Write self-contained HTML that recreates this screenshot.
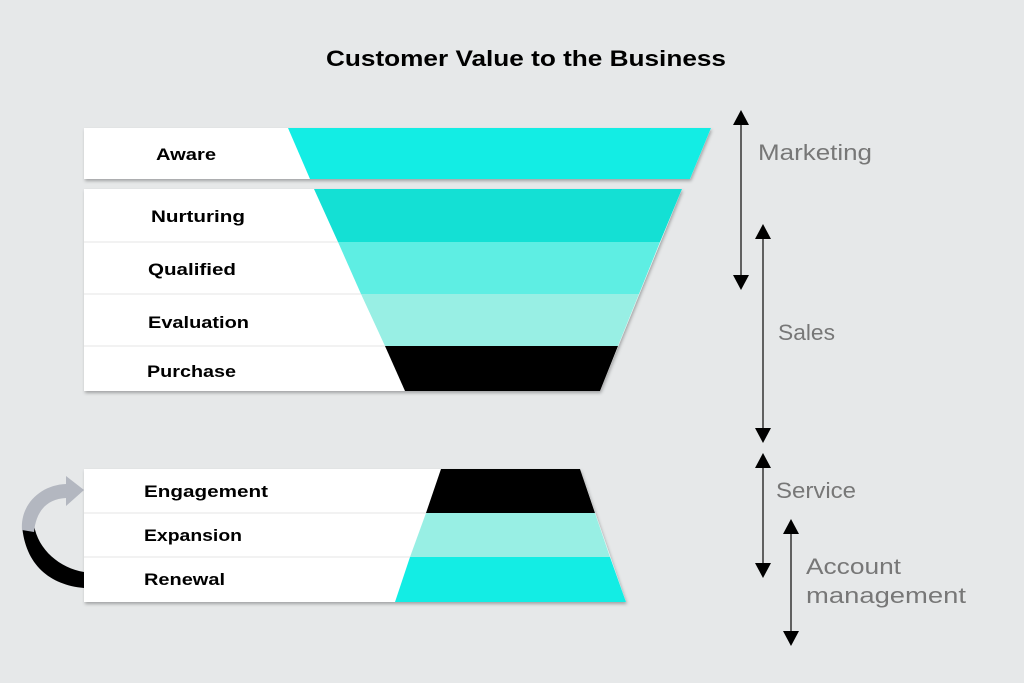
<!DOCTYPE html>
<html><head><meta charset="utf-8"><style>
html,body{margin:0;padding:0;background:#e6e8e9}
svg{display:block}
text{font-family:"Liberation Sans",sans-serif}
.b{font-weight:bold;font-size:17px;fill:#000}
.l{font-size:22px;fill:#777;font-weight:normal}
</style></head><body>
<svg width="1024" height="683" viewBox="0 0 1024 683" xmlns="http://www.w3.org/2000/svg">
<defs>
<filter id="sh" x="-5%" y="-10%" width="110%" height="130%"><feDropShadow dx="1" dy="2" stdDeviation="1.5" flood-color="#000" flood-opacity="0.3"/></filter>
</defs>
<rect width="1024" height="683" fill="#e6e8e9"/>
<text x="526" y="66" text-anchor="middle" font-weight="bold" font-size="22" textLength="400" lengthAdjust="spacingAndGlyphs">Customer Value to the Business</text>

<g filter="url(#sh)">
<polygon points="84,128 711,128 690,179 84,179" fill="#fff"/>
</g>
<polygon points="288,128 711,128 690,179 310,179" fill="#13ede4"/>
<text class="b" x="156" y="160" textLength="60" lengthAdjust="spacingAndGlyphs">Aware</text>

<g filter="url(#sh)">
<polygon points="84,189 682,189 600,391 84,391" fill="#fff"/>
</g>
<polygon points="314,189 682,189 660,242 338,242" fill="#14e0d4"/>
<polygon points="338,242 660,242 639,294 361,294" fill="#5eeee3"/>
<polygon points="361,294 639,294 618,346 385,346" fill="#98efe4"/>
<polygon points="385,346 618,346 600,391 405,391" fill="#000"/>
<line x1="84" y1="242" x2="338" y2="242" stroke="#e4e4e4"/>
<line x1="84" y1="294" x2="361" y2="294" stroke="#e4e4e4"/>
<line x1="84" y1="346" x2="385" y2="346" stroke="#e4e4e4"/>
<text class="b" x="151" y="222" textLength="94" lengthAdjust="spacingAndGlyphs">Nurturing</text>
<text class="b" x="148" y="275" textLength="88" lengthAdjust="spacingAndGlyphs">Qualified</text>
<text class="b" x="148" y="328" textLength="101" lengthAdjust="spacingAndGlyphs">Evaluation</text>
<text class="b" x="147" y="377" textLength="89" lengthAdjust="spacingAndGlyphs">Purchase</text>

<path d="M84,588 C50,585 25,565 22,525 L34,525 C38,550 60,568 84,572 Z" fill="#000"/>
<path d="M22,530 C20,505 40,485 66,484 L66,476 L84,490 L66,506 L66,498 C46,499 36,512 34,532 Z" fill="#b3b7c0"/>
<g filter="url(#sh)">
<polygon points="84,469 580,469 626,602 84,602" fill="#fff"/>
</g>
<polygon points="441,469 580,469 595,513 426,513" fill="#000"/>
<polygon points="426,513 595,513 610,557 410,557" fill="#98efe4"/>
<polygon points="410,557 610,557 626,602 395,602" fill="#13ede4"/>
<line x1="84" y1="513" x2="426" y2="513" stroke="#e4e4e4"/>
<line x1="84" y1="557" x2="410" y2="557" stroke="#e4e4e4"/>
<text class="b" x="144" y="497" textLength="124" lengthAdjust="spacingAndGlyphs">Engagement</text>
<text class="b" x="144" y="541" textLength="98" lengthAdjust="spacingAndGlyphs">Expansion</text>
<text class="b" x="144" y="585" textLength="81" lengthAdjust="spacingAndGlyphs">Renewal</text>

<g stroke="#333" stroke-width="1.5">
<line x1="741" y1="120" x2="741" y2="280"/>
<line x1="763" y1="234" x2="763" y2="433"/>
<line x1="763" y1="463" x2="763" y2="568"/>
<line x1="791" y1="529" x2="791" y2="636"/>
</g>
<g fill="#000">
<polygon points="741,110 733,125 749,125"/><polygon points="741,290 733,275 749,275"/>
<polygon points="763,224 755,239 771,239"/><polygon points="763,443 755,428 771,428"/>
<polygon points="763,453 755,468 771,468"/><polygon points="763,578 755,563 771,563"/>
<polygon points="791,519 783,534 799,534"/><polygon points="791,646 783,631 799,631"/>
</g>
<text class="l" x="758" y="160" textLength="114" lengthAdjust="spacingAndGlyphs">Marketing</text>
<text class="l" x="778" y="340" textLength="57" lengthAdjust="spacingAndGlyphs">Sales</text>
<text class="l" x="776" y="498" textLength="80" lengthAdjust="spacingAndGlyphs">Service</text>
<text class="l" x="806" y="574" textLength="95" lengthAdjust="spacingAndGlyphs">Account</text>
<text class="l" x="806" y="603" textLength="160" lengthAdjust="spacingAndGlyphs">management</text>
</svg>
</body></html>
